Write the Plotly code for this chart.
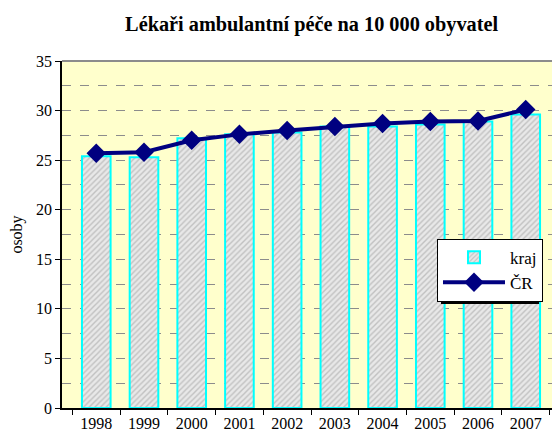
import plotly.graph_objects as go

years = ["1998", "1999", "2000", "2001", "2002", "2003", "2004", "2005", "2006", "2007"]
kraj = [25.4, 25.3, 27.2, 27.6, 27.8, 28.4, 28.4, 28.6, 28.9, 29.6]
cr = [25.7, 25.8, 27.0, 27.6, 28.0, 28.4, 28.7, 28.9, 28.95, 30.1]

FONT = "Liberation Serif"

fig = go.Figure()
fig.add_trace(go.Bar(
    x=years, y=kraj, name="kraj", width=0.6,
    marker=dict(color="#e6e6e6", line=dict(color="#00ffff", width=2),
                pattern=dict(shape="/", fgcolor="#9a9a9a", bgcolor="#e8e8e8", size=4, solidity=0.35)),
))
fig.add_trace(go.Scatter(
    x=years, y=cr, name="ČR", mode="lines+markers",
    line=dict(color="#000080", width=4),
    marker=dict(symbol="diamond", size=15, color="#000080"),
))

# the page body has an 8px margin, so the figure starts 8px right and down
fig.update_layout(
    width=552, height=430,
    margin=dict(l=54, r=0, t=53, b=30),
    paper_bgcolor="white", plot_bgcolor="#ffffcc",
    font=dict(family=FONT, size=16, color="black"),
    title=dict(text="<b>Lékaři ambulantní péče na 10 000 obyvatel</b>", x=0.55, xanchor="center",
               y=0.963, yanchor="middle", font=dict(family=FONT, size=20.3, color="black")),
    showlegend=True,
    legend=dict(x=0.753, y=0.488, xanchor="left", yanchor="top", bgcolor="white",
                bordercolor="black", borderwidth=1, font=dict(family=FONT, size=17),
                itemwidth=62, tracegroupgap=2),
    bargap=0.4,
    xaxis=dict(type="category", showline=True, linecolor="black", linewidth=1.5,
               ticks="outside", ticklen=5, tickcolor="black", tickson="boundaries",
               showgrid=False, tickfont=dict(size=16, family=FONT)),
    yaxis=dict(range=[0, 35], dtick=5, showline=True, linecolor="black", linewidth=1.5,
               ticks="outside", ticklen=5, tickcolor="black", zeroline=False,
               showgrid=True, gridcolor="#8c8c8c", griddash="dash", gridwidth=1,
               minor=dict(dtick=2.5, showgrid=True, gridcolor="#8c8c8c", griddash="dash", gridwidth=1),
               title=dict(text="osoby", font=dict(size=16, family=FONT), standoff=12),
               tickfont=dict(size=16, family=FONT)),
    shapes=[
        dict(type="line", xref="paper", yref="paper", x0=0, x1=1, y0=1, y1=1,
             line=dict(color="#8c8c8c", width=2)),
        dict(type="rect", xref="paper", yref="paper", x0=0.761, x1=0.958, y0=0.300, y1=0.470,
             fillcolor="black", line=dict(width=0), layer="above"),
    ],
)

fig.write_html("out.html")
